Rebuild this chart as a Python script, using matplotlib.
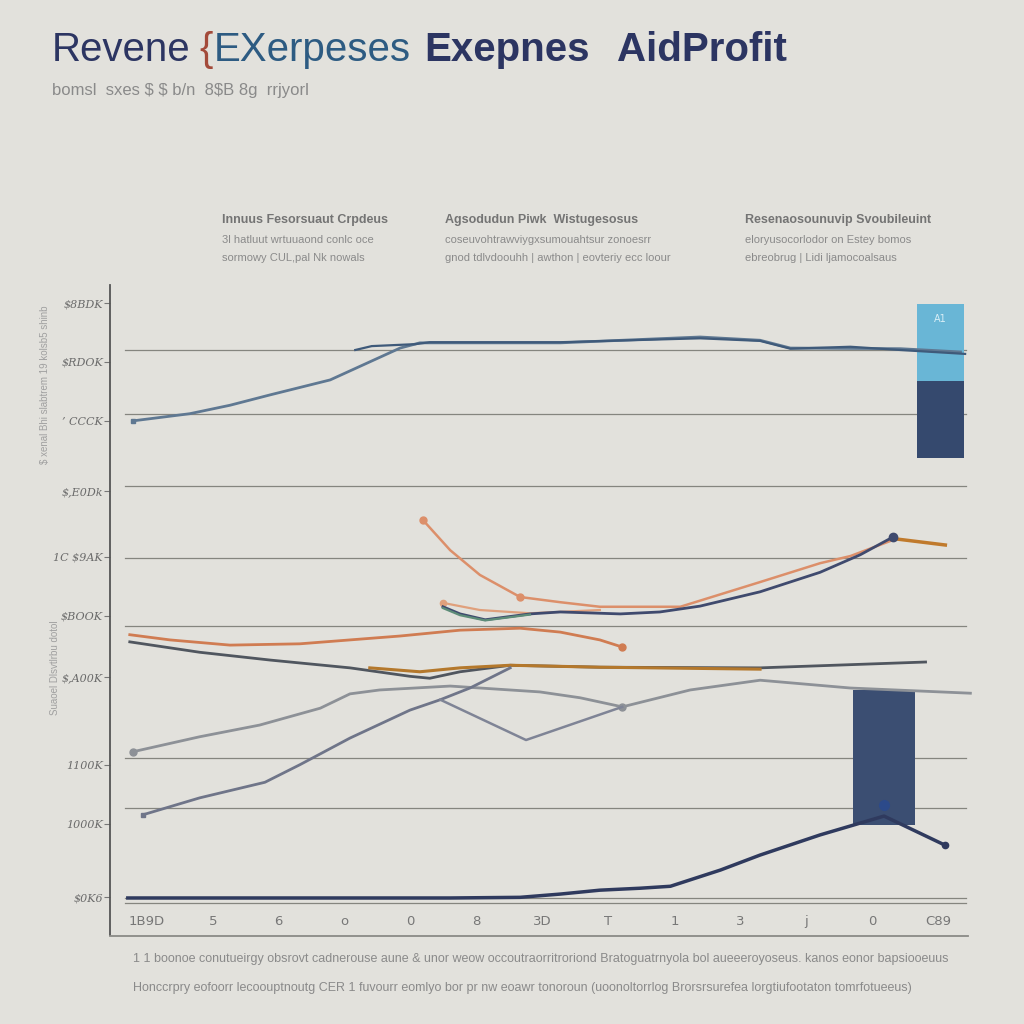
import numpy as np
import matplotlib.pyplot as plt

# x positions are category slots 0..12, y values are in "thousands" on a 0-1000 scale
x_labels = ['1B9D', '5', '6', 'o', '0', '8', '3D', 'T', '1', '3', 'j', '0', 'C89']
y_ticks = [972, 882, 791, 683, 582, 491, 397, 262, 171, 58]
y_labels = ['$8BDK', '$RDOK', '\u2019 CCCK', '$,E0Dk', '1C $9AK', '$BOOK', '$,A00K', '1100K', '1000K', '$0K6']
grid_vals = [900, 802, 691, 580, 475, 272, 195, 57, 49]

rev_x = [-0.21, 0.65, 1.26, 1.87, 2.78, 3.84, 4.14, 6.27, 8.39, 9.30, 9.76, 11.43, 12.34]
rev_y = [791, 802, 815, 831, 854, 903, 911, 911, 920, 915, 903, 902, 897]
rev2_x = [3.16, 3.41, 4.07, 4.29, 6.27, 8.39, 9.30, 9.76, 10.67, 11.43, 12.41]
rev2_y = [900, 906, 909, 912, 912, 918, 914, 902, 905, 900, 894]

cost_x = [4.19, 4.60, 5.05, 5.66, 6.27, 6.87, 8.09, 9.30, 10.21, 10.67, 11.27]
cost_y = [638, 592, 554, 520, 512, 505, 505, 543, 572, 583, 606]
cost_end_x = [11.31, 12.11]
cost_end_y = [610, 600]

opex_x = [4.49, 4.75, 5.13, 5.81, 6.27, 7.18, 7.78, 8.39, 9.30, 10.21, 10.82, 11.31]
opex_y = [505, 494, 485, 494, 497, 494, 497, 506, 528, 558, 585, 612]
opex_g_x = [4.49, 4.75, 5.13, 5.81]
opex_g_y = [503, 492, 484, 493]
opex2_x = [4.49, 5.05, 5.81, 6.87]
opex2_y = [511, 500, 495, 500]

mkt_x = [-0.26, 0.35, 1.26, 2.32, 3.84, 4.75, 5.66, 6.27, 6.87, 7.21]
mkt_y = [462, 454, 446, 448, 460, 469, 472, 466, 454, 443]

adm_x = [-0.26, 0.80, 1.87, 3.08, 3.99, 4.29, 4.75, 5.51, 6.87, 9.30, 11.81]
adm_y = [451, 435, 423, 411, 398, 395, 405, 415, 412, 411, 420]
adm2_x = [3.38, 4.14, 4.75, 5.51, 6.87, 9.30]
adm2_y = [411, 405, 411, 415, 412, 409]

gp_x = [-0.21, 0.80, 1.71, 2.63, 3.08, 3.53, 4.60, 5.96, 6.57, 7.21, 8.24, 9.30, 10.67, 12.49]
gp_y = [282, 305, 323, 349, 371, 377, 383, 374, 365, 351, 377, 392, 380, 372]

ebit_x = [-0.06, 0.80, 1.79, 2.32, 3.08, 3.99, 4.45, 4.90, 5.51]
ebit_y = [185, 211, 235, 262, 303, 346, 362, 380, 411]
ebit2_x = [4.45, 5.75, 7.21]
ebit2_y = [362, 300, 351]

net_x = [-0.29, 2.32, 4.60, 5.66, 6.27, 6.87, 7.48, 7.94, 8.70, 9.30, 10.21, 11.18, 12.11]
net_y = [57, 57, 57, 58, 63, 69, 72, 75, 100, 123, 154, 183, 138]

bar_x, bar_lo, bar_hi = 11.18, 169, 377
stack_x, stack_lo, stack_mid, stack_hi = 12.04, 734, 852, 971

bg = '#e2e1dc'
sans = 'Liberation Sans'
fig = plt.figure(figsize=(10.24, 10.24), dpi=100, facecolor=bg)
ax = fig.add_axes([110/1024, 1-936/1024, 865/1024, 651/1024], facecolor=bg)
ax.set_xlim(-0.56, 12.56)
ax.set_ylim(-1.5, 1000)

for g in grid_vals:
    ax.axhline(g, xmin=0.017, xmax=0.99, color='#85857f', lw=0.9, zorder=1)

ax.bar(bar_x, bar_hi - bar_lo, bottom=bar_lo, width=0.94, color='#3b4e72', zorder=2)
ax.bar(stack_x, stack_mid - stack_lo, bottom=stack_lo, width=0.71, color='#35496e', zorder=2)
ax.bar(stack_x, stack_hi - stack_mid, bottom=stack_mid, width=0.71, color='#69b6d6', zorder=2)
ax.text(stack_x, 948, 'A1', color='#d8eef6', fontsize=7, ha='center', va='center', zorder=3)

ax.plot(rev_x, rev_y, color='#5f7892', lw=2, marker='s', ms=3.5, markevery=[0], zorder=3)
ax.plot(rev2_x, rev2_y, color='#3f5a7a', lw=1.6, zorder=3)
ax.plot(cost_x, cost_y, color='#dc8f6a', lw=1.8, marker='o', ms=5, markevery=[0, 3], zorder=3)
ax.plot(cost_end_x, cost_end_y, color='#c07a2c', lw=2.5, zorder=3)
ax.plot(opex2_x, opex2_y, color='#e0a07c', lw=1.6, marker='o', ms=4.5, markevery=[0], zorder=3)
ax.plot(opex_x, opex_y, color='#3f4a6e', lw=2, marker='o', ms=6, markevery=[11], zorder=3)
ax.plot(opex_g_x, opex_g_y, color='#5d8c78', lw=1.6, zorder=3)
ax.plot(mkt_x, mkt_y, color='#d07c52', lw=2, marker='o', ms=5, markevery=[9], zorder=3)
ax.plot(adm_x, adm_y, color='#50565f', lw=2, zorder=3)
ax.plot(adm2_x, adm2_y, color='#b4782c', lw=2.2, zorder=3)
ax.plot(gp_x, gp_y, color='#8d9197', lw=2, marker='o', ms=5, markevery=[0, 9], zorder=3)
ax.plot(ebit_x, ebit_y, color='#6f7589', lw=2, marker='s', ms=3.5, markevery=[0], zorder=3)
ax.plot(ebit2_x, ebit2_y, color='#7f8496', lw=1.8, zorder=3)
ax.plot(net_x, net_y, color='#2f3a5e', lw=2.5, marker='o', ms=4.5, markevery=[12], zorder=3)
ax.plot([bar_x], [200], 'o', color='#2c4a8a', ms=7, zorder=4)

for s in ['top', 'right']:
    ax.spines[s].set_visible(False)
ax.spines['left'].set_color('#555555')
ax.spines['left'].set_linewidth(1.3)
ax.spines['left'].set_bounds(0, 1000)
ax.spines['bottom'].set_color('#8a8a86')
ax.spines['bottom'].set_linewidth(1.3)
ax.spines['bottom'].set_bounds(-0.56, 12.45)

ax.set_yticks(y_ticks)
ax.set_yticklabels(y_labels, fontsize=8, color='#6a6a6a', family='DejaVu Serif', style='italic')
ax.tick_params(axis='y', length=4, color='#777777', pad=1)
ax.set_xticks(range(len(x_labels)))
ax.set_xticklabels(x_labels, fontsize=9.5, color='#777777')
ax.tick_params(axis='x', length=0, pad=-15)

# title
navy = '#2c3562'
fig.text(52/1024, 0.940, 'Revene', fontsize=29, color=navy, family=sans)
fig.text(199/1024, 0.940, '{', fontsize=29, color='#a34a3a', family=sans)
fig.text(214/1024, 0.940, 'EXerpeses', fontsize=29, color='#2d5b82', family=sans)
fig.text(424/1024, 0.940, 'Exepnes', fontsize=29, color=navy, family=sans, weight='bold')
fig.text(617/1024, 0.940, 'AidProfit', fontsize=29, color=navy, family=sans, weight='bold')
fig.text(52/1024, 1-95/1024, 'bomsl  sxes $ $ b/n  8$B 8g  rrjyorl', fontsize=12,
         color='#8a8a8a', family=sans)

# column notes
heads = [(222, 'Innuus Fesorsuaut Crpdeus', '3l hatluut wrtuuaond conlc oce', 'sormowy CUL,pal Nk nowals'),
         (445, 'Agsodudun Piwk  Wistugesosus', 'coseuvohtrawviygxsumouahtsur zonoesrr', 'gnod tdlvdoouhh | awthon | eovteriy ecc loour'),
         (745, 'Resenaosounuvip Svoubileuint', 'eloryusocorlodor on Estey bomos', 'ebreobrug | Lidi ljamocoalsaus')]
for hx, h1, h2, h3 in heads:
    fig.text(hx/1024, 1-223/1024, h1, fontsize=9, color='#747474', weight='bold', family=sans)
    fig.text(hx/1024, 1-243/1024, h2, fontsize=8, color='#8a8a8a', family=sans)
    fig.text(hx/1024, 1-261/1024, h3, fontsize=8, color='#8a8a8a', family=sans)

# side captions
fig.text(45/1024, 1-385/1024, '$ xenal Bhi slabtrem 19 kolsb5 shinb', rotation=90, fontsize=7,
         color='#a0a0a0', ha='center', va='center', family=sans)
fig.text(55/1024, 1-668/1024, 'Suaoel Dlsvtlrbu dotol', rotation=90, fontsize=7,
         color='#a0a0a0', ha='center', va='center', family=sans)

# footer
fig.text(133/1024, 1-962/1024, '1 1 boonoe conutueirgy obsrovt cadnerouse aune & unor weow occoutraorritroriond Bratoguatrnyola bol '
         'aueeeroyoseus. kanos eonor bapsiooeuus', fontsize=9, color='#8a8a8a', family=sans)
fig.text(133/1024, 1-991/1024, 'Honccrpry eofoorr lecoouptnoutg CER 1 fuvourr eomlyo bor pr nw eoawr tonoroun (uoonoltorrlog '
         'Brorsrsurefea lorgtiufootaton tomrfotueeus)', fontsize=9, color='#8a8a8a', family=sans)

fig.savefig('out.png', dpi=100, facecolor=bg)
